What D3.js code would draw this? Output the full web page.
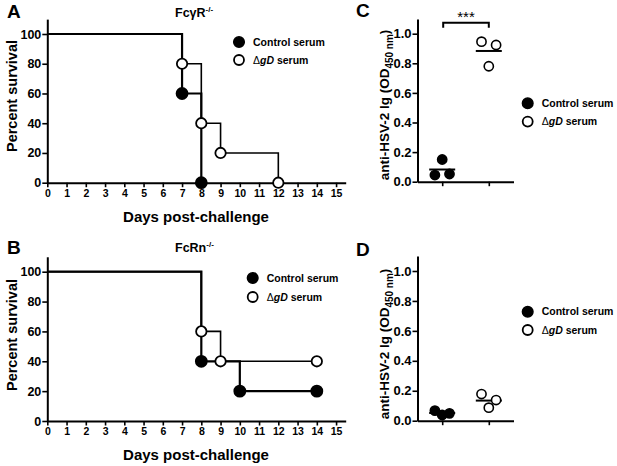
<!DOCTYPE html>
<html>
<head>
<meta charset="utf-8">
<script src="https://cdn.jsdelivr.net/npm/d3@7"></script>
<style>
  body { margin: 0; background: #fff; }
  svg { display: block; font-family: "Liberation Sans", Arial, sans-serif; font-weight: bold; }
</style>
</head>
<body>
<svg id="fig" width="617" height="466"></svg>
<script>
// survival data (days, percent)
const daysTicks = d3.range(0, 16);
const survTicks = [0, 20, 40, 60, 80, 100];

const fcgr_control_days = [0, 7, 8];
const fcgr_control_surv = [100, 60, 0];
const fcgr_gd_days = [0, 7, 8, 9, 12];
const fcgr_gd_surv = [100, 80, 40, 20, 0];

const fcrn_control_days = [0, 8, 10, 14];
const fcrn_control_surv = [100, 40, 20, 20];
const fcrn_gd_days = [0, 8, 9, 14];
const fcrn_gd_surv = [100, 60, 40, 40];

// antibody data (OD450), three mice per group, left-to-right order
const groups = ["Control serum", "gD serum"];
const odTicks = [0, 0.2, 0.4, 0.6, 0.8, 1.0];
const c_control = [0.045, 0.15, 0.052];
const c_gd = [0.946, 0.78, 0.924];
const d_control = [0.067, 0.038, 0.049];
const d_gd = [0.178, 0.087, 0.138];

const svg = d3.select("#fig");

function styleAxis(g) {
    g.selectAll("path.domain").attr("stroke", "#000").attr("stroke-width", 2);
    g.selectAll(".tick line").attr("stroke", "#000").attr("stroke-width", 1.6);
    g.selectAll(".tick text").attr("fill", "#000").style("font-family", "'Liberation Sans', Arial, sans-serif");
}

function legend(x, y, gap) {
    let lg = svg.append("g").attr("transform", `translate(${x},${y})`);
    lg.append("circle").attr("r", 5.3).attr("fill", "#000").attr("stroke", "#000").attr("stroke-width", 1.5);
    lg.append("circle").attr("cy", gap).attr("r", 5).attr("fill", "#fff").attr("stroke", "#000").attr("stroke-width", 1.8);
    lg.append("text").attr("x", 14).attr("dy", "0.35em").style("font-size", "10.5px").text("Control serum");
    let t = lg.append("text").attr("x", 14).attr("y", gap).attr("dy", "0.35em").style("font-size", "10.5px");
    t.append("tspan").style("font-weight", "normal").text("\u0394");
    t.append("tspan").style("font-style", "italic").text("gD");
    t.append("tspan").text(" serum");
}

function survivalPanel(opts) {
    let x = d3.scaleLinear().domain([0, 15.5]).range([47.3, 345.7]);
    let y = d3.scaleLinear().domain([0, 110]).range([opts.base, opts.base - 1.1 * opts.h]);

    let gx = svg.append("g").attr("transform", `translate(0,${opts.base})`)
        .call(d3.axisBottom(x).tickValues(daysTicks).tickSize(4.5).tickPadding(2).tickSizeOuter(0));
    gx.selectAll(".tick text").style("font-size", "10.5px");
    styleAxis(gx);

    let gy = svg.append("g").attr("transform", `translate(47.3,0)`)
        .call(d3.axisLeft(y).tickValues(survTicks).tickSize(5).tickPadding(1).tickSizeOuter(0));
    gy.selectAll(".tick text").style("font-size", "12.5px");
    styleAxis(gy);

    let line = d3.line().x(d => x(d[0])).y(d => y(d[1])).curve(d3.curveStepAfter);

    opts.series.forEach(s => {
        let pts = d3.zip(s.days, s.surv);
        svg.append("path").datum(pts).attr("d", line)
            .attr("fill", "none").attr("stroke", "#000").attr("stroke-width", s.filled ? 2.2 : 1.6);
    });
    opts.series.forEach(s => {
        let pts = d3.zip(s.days, s.surv).slice(1);
        svg.append("g").selectAll("circle").data(pts).enter().append("circle")
            .attr("cx", d => x(d[0])).attr("cy", d => y(d[1]))
            .attr("r", s.filled ? 5.5 : 5.2)
            .attr("fill", s.filled ? "#000" : "#fff")
            .attr("stroke", "#000").attr("stroke-width", 1.8);
    });

    svg.append("text").attr("x", 7).attr("y", opts.letterY).style("font-size", "19px").text(opts.letter);

    let tt = svg.append("text").attr("x", opts.titleX).attr("y", opts.titleY).style("font-size", "12.5px");
    tt.append("tspan").text(opts.title);
    tt.append("tspan").attr("dy", -5).style("font-size", "8px").text("-/-");

    svg.append("text").attr("x", 196).attr("y", opts.base + 39).attr("text-anchor", "middle")
        .style("font-size", "15px").text("Days post-challenge");

    svg.append("text").attr("transform", `translate(17,${opts.ylabY}) rotate(-90)`)
        .attr("text-anchor", "middle").style("font-size", "14.5px")
        .text("Percent survival");

    legend(opts.legX, opts.legY, opts.legGap);
}

function odPanel(opts) {
    let x = d3.scalePoint().domain(groups).range([417.5, 513.5]).padding(0.53);
    let y = d3.scaleLinear().domain([0, 1.1]).range([opts.base, opts.base - 1.1 * opts.h]);

    let gx = svg.append("g").attr("transform", `translate(0,${opts.base})`)
        .call(d3.axisBottom(x).tickSize(4.5).tickFormat("").tickSizeOuter(0));
    styleAxis(gx);

    let gy = svg.append("g").attr("transform", `translate(417.5,0)`)
        .call(d3.axisLeft(y).tickValues(odTicks).tickFormat(d3.format(".1f")).tickSize(5).tickPadding(1).tickSizeOuter(0));
    gy.selectAll(".tick text").style("font-size", "13px");
    styleAxis(gy);

    let sets = [{ name: groups[0], vals: opts.control, filled: true },
                { name: groups[1], vals: opts.gd, filled: false }];

    sets.forEach(s => {
        let cx = x(s.name);
        let m = d3.mean(s.vals);
        svg.append("line").attr("x1", cx - 13).attr("x2", cx + 13)
            .attr("y1", y(m)).attr("y2", y(m)).attr("stroke", "#000").attr("stroke-width", 2);
        svg.append("g").selectAll("circle").data(s.vals).enter().append("circle")
            .attr("cx", (d, i) => cx + (i - 1) * 7.3)
            .attr("cy", d => y(d))
            .attr("r", 4.6)
            .attr("fill", s.filled ? "#000" : "#fff")
            .attr("stroke", "#000").attr("stroke-width", 1.6);
    });

    if (opts.sig) {
        let x1 = x(groups[0]) + 1, x2 = x(groups[1]);
        let yb = 22.7;
        svg.append("path").attr("d", `M${x1},${yb + 5}V${yb}H${x2}V${yb + 5}`)
            .attr("fill", "none").attr("stroke", "#000").attr("stroke-width", 2);
        svg.append("text").attr("x", (x1 + x2) / 2).attr("y", 22).attr("text-anchor", "middle")
            .style("font-size", "15px").style("font-weight", "normal").text("***");
    }

    svg.append("text").attr("x", 356).attr("y", opts.letterY).style("font-size", "19px").text(opts.letter);

    let lt = svg.append("text").attr("transform", `translate(389,${opts.ylabY}) rotate(-90)`)
        .attr("text-anchor", "middle").style("font-size", "13.5px");
    lt.append("tspan").text("anti-HSV-2 Ig (OD");
    lt.append("tspan").attr("dy", 4).style("font-size", "10px").text("450 nm");
    lt.append("tspan").attr("dy", -4).text(")");

    legend(527.7, opts.legY, 18.3);
}

survivalPanel({
    base: 182.7, h: 148.7, letter: "A", letterY: 18, title: "Fc\u03b3R", titleX: 175, titleY: 17,
    ylabY: 96, legX: 239, legY: 42, legGap: 18,
    series: [
        { days: fcgr_control_days, surv: fcgr_control_surv, filled: true },
        { days: fcgr_gd_days, surv: fcgr_gd_surv, filled: false }
    ]
});

survivalPanel({
    base: 421, h: 149.3, letter: "B", letterY: 254, title: "FcRn", titleX: 175, titleY: 251.5,
    ylabY: 335, legX: 252.7, legY: 278, legGap: 19,
    series: [
        { days: fcrn_control_days, surv: fcrn_control_surv, filled: true },
        { days: fcrn_gd_days, surv: fcrn_gd_surv, filled: false }
    ]
});

odPanel({ base: 181.7, h: 148, letter: "C", letterY: 17, ylabY: 105, legY: 103.3,
    control: c_control, gd: c_gd, sig: true });

odPanel({ base: 420.7, h: 149.7, letter: "D", letterY: 256, ylabY: 344, legY: 311.7,
    control: d_control, gd: d_gd, sig: false });
</script>
</body>
</html>
